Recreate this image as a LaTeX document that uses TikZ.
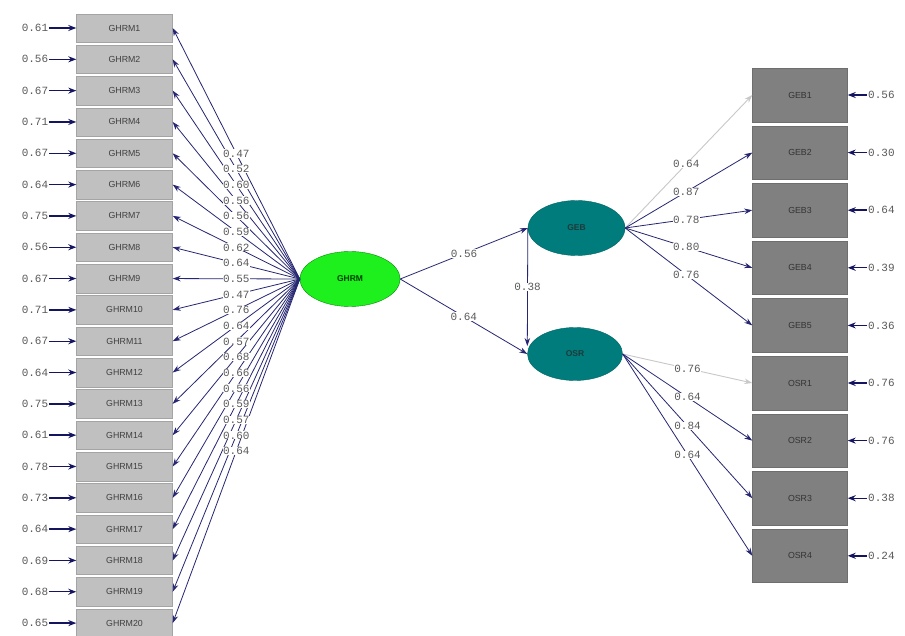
\documentclass[tikz,border=0pt]{standalone}
\usepackage{fontspec}
\setmainfont{Liberation Sans}
\newfontfamily\valfont{Liberation Mono}
\usetikzlibrary{arrows.meta,shapes.geometric}
\definecolor{boxlight}{HTML}{C0C0C0}
\definecolor{boxlightborder}{HTML}{A4A4A4}
\definecolor{boxdark}{HTML}{808080}
\definecolor{boxdarkborder}{HTML}{6E6E6E}
\definecolor{navyhead}{HTML}{141460}
\definecolor{linenavy}{HTML}{262672}
\definecolor{valgray}{HTML}{5A5A5A}
\definecolor{ghrmgreen}{HTML}{1EF01E}
\definecolor{latteal}{HTML}{007C7C}
\definecolor{fixedgray}{HTML}{C8C8C8}
\definecolor{latenttext}{HTML}{1E3A3A}
\begin{document}
\begin{tikzpicture}[x=1pt,y=-1pt,
  leftbox/.style={rectangle, draw=boxlightborder, fill=boxlight, minimum width=96pt, minimum height=28.5pt, inner sep=0pt, font=\fontsize{8.8}{10}\selectfont, text=black!75},
  rightbox/.style={rectangle, draw=boxdarkborder, fill=boxdark, minimum width=95pt, minimum height=53.5pt, inner sep=0pt, font=\fontsize{8.8}{10}\selectfont, text=black!80},
  latent/.style={ellipse, inner sep=0pt, font=\fontsize{8.5}{10}\selectfont\bfseries},
  val/.style={font=\valfont\fontsize{11}{12}\selectfont, text=valgray, inner sep=1pt},
  lab/.style={val, fill=white, inner sep=0.3pt},
  load/.style={draw=linenavy, line width=0.8pt, -{Stealth[length=8pt,width=5.5pt]}},
  fixedload/.style={draw=fixedgray, line width=0.9pt, -{Stealth[length=8pt,width=5.5pt]}},
  err/.style={draw=navyhead, line width=1.4pt, -{Stealth[length=8pt,width=6pt]}}
]
\useasboundingbox (0,0) rectangle (905,636);
\fill[white] (0,0) rectangle (905,636);

% latent variables
\node[latent, draw=green!55!black, fill=ghrmgreen, minimum width=100pt, minimum height=55pt, text=green!25!black] (ghrm) at (350,279) {GHRM};
\node[latent, draw=latteal!80!black, fill=latteal, minimum width=97pt, minimum height=55pt, text=latenttext] (geb) at (576.5,228) {GEB};
\node[latent, draw=latteal!80!black, fill=latteal, minimum width=95pt, minimum height=53pt, text=latenttext] (osr) at (575,354) {OSR};

% left indicators
\foreach \i/\e in {1/0.61,2/0.56,3/0.67,4/0.71,5/0.67,6/0.64,7/0.75,8/0.56,9/0.67,10/0.71,11/0.67,12/0.64,13/0.75,14/0.61,15/0.78,16/0.73,17/0.64,18/0.69,19/0.68,20/0.65}{
  \node[leftbox] (g\i) at (124.5,{28+31.32*(\i-1)}) {GHRM\i};
  \node[val] (eg\i) at (35,{28+31.32*(\i-1)}) {\e};
  \draw[err] (eg\i.east) -- (g\i.west);
  \draw[load] (ghrm.west) -- (g\i.east);
}
\foreach \i/\l in {1/0.47,2/0.52,3/0.60,4/0.56,5/0.56,6/0.59,7/0.62,8/0.64,9/0.55,10/0.47,11/0.76,12/0.64,13/0.57,14/0.68,15/0.66,16/0.56,17/0.59,18/0.57,19/0.60,20/0.64}{
  \path (ghrm.west) -- node[lab, pos=0.5] {\l} (g\i.east);
}

% right indicators
\foreach \i/\e in {1/0.56,2/0.30,3/0.64,4/0.39,5/0.36}{
  \node[rightbox] (geb\i) at (800,{95+57.6*(\i-1)}) {GEB\i};
  \node[val, anchor=west] (egeb\i) at (867,{95+57.6*(\i-1)}) {\e};
  \draw[err] (egeb\i.west) -- (geb\i.east);
}
\foreach \i/\e in {1/0.76,2/0.76,3/0.38,4/0.24}{
  \node[rightbox] (osr\i) at (800,{383+57.6*(\i-1)}) {OSR\i};
  \node[val, anchor=west] (eosr\i) at (867,{383+57.6*(\i-1)}) {\e};
  \draw[err] (eosr\i.west) -- (osr\i.east);
}

% GEB loadings
\draw[fixedload] (geb.east) -- node[lab, pos=0.48] {0.64} (geb1.west);
\foreach \i/\l in {2/0.87,3/0.78,4/0.80,5/0.76}{
  \draw[load] (geb.east) -- node[lab, pos=0.48] {\l} (geb\i.west);
}
% OSR loadings
\draw[fixedload] (osr.east) -- node[lab, pos=0.5] {0.76} (osr1.west);
\foreach \i/\l in {2/0.64,3/0.84,4/0.64}{
  \draw[load] (osr.east) -- node[lab, pos=0.5] {\l} (osr\i.west);
}

% structural paths
\draw[load] (ghrm.east) -- node[lab] {0.56} (geb.west);
\draw[load] (ghrm.east) -- node[lab] {0.64} (osr.west);
\draw[load] (geb.west) -- node[lab] {0.38} ([yshift=8pt]osr.west);
\end{tikzpicture}
\end{document}
